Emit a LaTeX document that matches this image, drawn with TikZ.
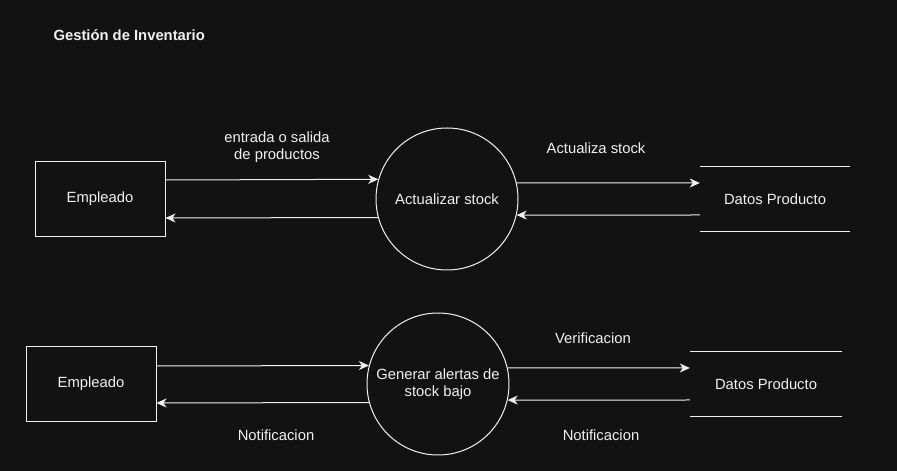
\documentclass[tikz,border=0pt]{standalone}
\usepackage{fontspec}
\setmainfont{Liberation Sans}
\usepackage{xcolor}
\usetikzlibrary{arrows.meta,positioning}
\definecolor{fondo}{HTML}{121212}
\definecolor{trazo}{HTML}{F0F0F0}

\begin{document}
\begin{tikzpicture}[x=1pt, y=1pt,
      every node/.style={text=trazo, font=\fontsize{14.8}{17}\selectfont},
      ent/.style={rectangle, draw=trazo, line width=1pt, minimum width=130pt, minimum height=75pt},
      proc/.style={circle, draw=trazo, line width=1pt, minimum size=142pt, inner sep=0pt, align=center},
      almacen/.style={rectangle, minimum width=150pt, minimum height=65pt},
      flujo/.style={draw=trazo, line width=1pt, -{Stealth[length=10pt, width=9pt, inset=3pt]}},
      >=Stealth]
    \fill[fondo] (0,0) rectangle (897,471);
    \useasboundingbox (0,0) rectangle (897,471);

    \node[anchor=west, font=\fontsize{14.8}{17}\selectfont\bfseries] (titulo) at (50,436) {Gestión de Inventario};

    % primera fila
    \node[ent] (emp1) at (100,272) {Empleado};
    \node[proc] (act) at (447,272) {Actualizar stock};
    \node[almacen] (datos1) at (775,272) {Datos Producto};
    \draw[trazo, line width=1pt] (datos1.north west) -- (datos1.north east);
    \draw[trazo, line width=1pt] (datos1.south west) -- (datos1.south east);

    \draw[flujo] ([yshift=19pt]emp1.east) -- (act.164.5);
    \draw[flujo] (act.195.5) -- ([yshift=-19pt]emp1.east);
    \draw[flujo] (act.13) -- ([yshift=16pt]datos1.west);
    \draw[flujo] ([yshift=-16pt]datos1.west) -- (act.-13);

    \node[align=center] (lbl1) at (277,323.5) {entrada o salida\\de productos};
    \node (lbl2) at (596,323) {Actualiza stock};

    % segunda fila
    \node[ent] (emp2) at (91,87) {Empleado};
    \node[proc] (alerta) at (438,87) {Generar alertas de\\stock bajo};
    \node[almacen, minimum width=152pt] (datos2) at (766,87) {Datos Producto};
    \draw[trazo, line width=1pt] (datos2.north west) -- (datos2.north east);
    \draw[trazo, line width=1pt] (datos2.south west) -- (datos2.south east);

    \draw[flujo] ([yshift=18pt]emp2.east) -- (alerta.165.3);
    \draw[flujo] (alerta.195.5) -- ([yshift=-19pt]emp2.east);
    \draw[flujo] (alerta.13) -- ([yshift=16pt]datos2.west);
    \draw[flujo] ([yshift=-16pt]datos2.west) -- (alerta.-13);

    \node (lbl3) at (593,133) {Verificacion};
    \node (lbl4) at (276,36) {Notificacion};
    \node (lbl5) at (601,36) {Notificacion};
  \end{tikzpicture}
\end{document}
